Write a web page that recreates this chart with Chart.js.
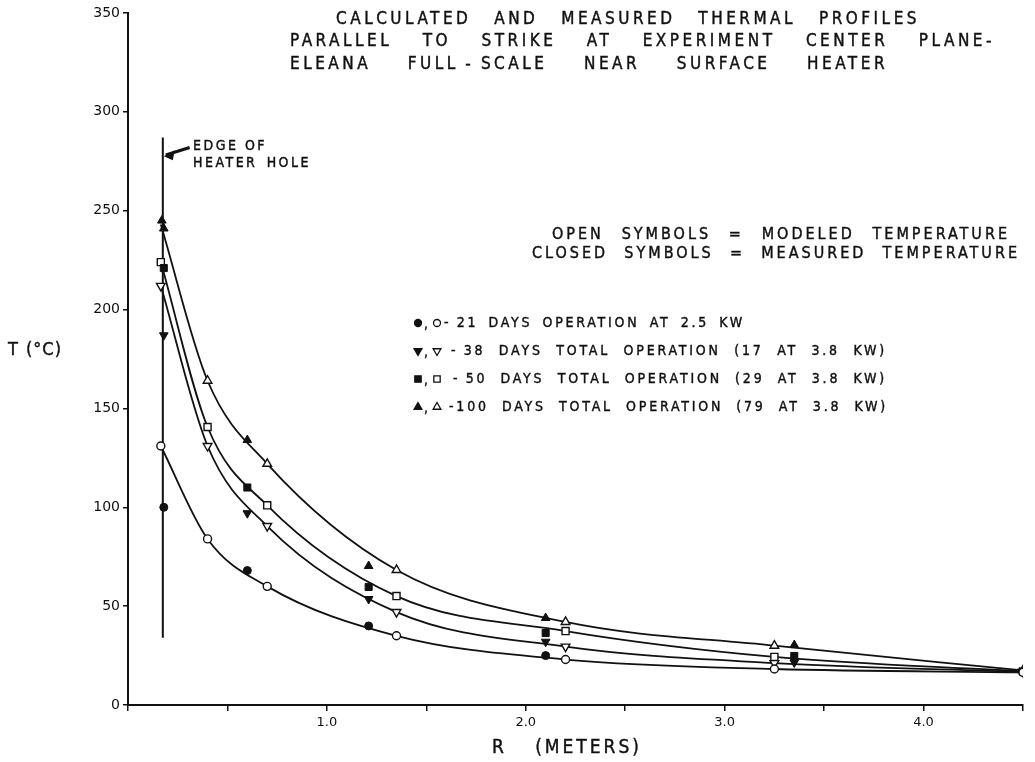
<!DOCTYPE html>
<html>
<head>
<meta charset="utf-8">
<script src="https://cdn.jsdelivr.net/npm/chart.js@4.4.0/dist/chart.umd.min.js"></script>
<style>
html, body { margin: 0; padding: 0; background: #fff; }
</style>
</head>
<body>
<canvas id="myChart" width="1035" height="762"></canvas>
<script>
// radius from heater centre (m) / temperature (deg C)
let modelR = [0.165, 0.4, 0.7, 1.35, 2.2, 3.25, 4.5]
let model21 = [131, 84, 60, 35, 23, 18.2, 16.5]
let model38 = [212, 131, 90.5, 47, 29.5, 21.2, 16.8]
let model50 = [224, 140.6, 101, 55.1, 37.4, 24.3, 17]
let model100 = [243, 164, 122, 68.3, 42, 30, 17.5]

let measR = [0.18, 0.6, 1.21, 2.1, 3.35]
let meas21 = [100, 68, 40, 25, null]
let meas38 = [187, 97, 53.6, 32, 21.5]
let meas50 = [221, 110, 59.7, 36.4, 24.8]
let meas100R = [0.17, 0.18, 0.6, 1.21, 2.1, 3.35]
let meas100 = [245, 241, 134, 70.3, 44, 30.3]

let heaterR = 0.175
let heaterT = [34, 287]

let xTicks = [1, 2, 3, 4]
let yTicks = [0, 50, 100, 150, 200, 250, 300, 350]

const ink = '#111'
const family = '"DejaVu Sans Condensed", "DejaVu Sans", sans-serif'
const thin = '\u2009'

function pts(xs, ys) {
    let out = []
    xs.forEach((x, i) => { if (ys[i] != null) out.push({ x, y: ys[i] }) })
    return out
}

function model(data, style, rot, hideFirst) {
    return {
        data,
        showLine: true,
        borderColor: ink,
        borderWidth: 1.8,
        cubicInterpolationMode: 'monotone',
        pointStyle: style,
        rotation: rot,
        pointRadius: c => (hideFirst && c.dataIndex === 0) ? 0 : (style === 'circle' ? 4 : 5),
        pointBackgroundColor: '#fff',
        pointBorderColor: ink,
        pointBorderWidth: 1.4,
        order: 1
    }
}

function measured(data, style, rot) {
    return {
        data,
        showLine: false,
        pointStyle: style,
        rotation: rot,
        pointRadius: style === 'circle' ? 4 : 5,
        pointBackgroundColor: ink,
        pointBorderColor: ink,
        pointBorderWidth: 1,
        order: 0
    }
}

// letters a little apart, words spread so the line spans w
function fitText(ctx, text, x, y, w, size, ls) {
    ctx.font = size + 'px ' + family
    ctx.letterSpacing = (ls || 0) + 'px'
    ctx.wordSpacing = '0px'
    let w1 = ctx.measureText(text).width
    let gaps = text.split(' ').length - 1
    if (gaps > 0) ctx.wordSpacing = Math.max(0, (w - w1) / gaps) + 'px'
    ctx.textAlign = 'left'
    ctx.textBaseline = 'middle'
    ctx.fillStyle = ink
    ctx.strokeStyle = ink
    ctx.lineWidth = 0.4
    ctx.fillText(text, x, y)
    ctx.strokeText(text, x, y)
    ctx.letterSpacing = '0px'
    ctx.wordSpacing = '0px'
}

function marker(ctx, style, rot, filled, x, y) {
    ctx.fillStyle = filled ? ink : '#fff'
    ctx.strokeStyle = ink
    ctx.lineWidth = 1.3
    Chart.helpers.drawPoint(ctx, { pointStyle: style, rotation: rot, radius: style === 'circle' ? 3.5 : 4.5, borderWidth: 1.3 }, x, y)
}

const notes = {
    id: 'notes',
    afterDraw(chart) {
        const ctx = chart.ctx
        const xs = chart.scales.x, ys = chart.scales.y
        ctx.save()

        // title block
        fitText(ctx, 'CALCULATED AND MEASURED THERMAL PROFILES', 336, 20, 584, 17, 3.5)
        fitText(ctx, 'PARALLEL TO STRIKE AT EXPERIMENT CENTER PLANE-', 290, 42, 705, 17, 3.5)
        fitText(ctx, 'ELEANA FULL' + thin + '-' + thin + 'SCALE NEAR SURFACE HEATER', 290, 65, 598, 17, 3.5)

        fitText(ctx, 'OPEN SYMBOLS = MODELED TEMPERATURE', 552, 235, 458, 16, 3)
        fitText(ctx, 'CLOSED SYMBOLS = MEASURED TEMPERATURE', 532, 254, 488, 16, 3)

        // symbol key
        const key = [
            ['circle', 0, '-' + thin + '21 DAYS OPERATION AT 2.5 KW', 444, 301, 323],
            ['triangle', 180, '-' + thin + '38 DAYS TOTAL OPERATION (17 AT 3.8 KW)', 451, 436, 351],
            ['rect', 0, '-' + thin + '50 DAYS TOTAL OPERATION (29 AT 3.8 KW)', 453, 434, 379],
            ['triangle', 0, '-100 DAYS TOTAL OPERATION (79 AT 3.8 KW)', 449, 439, 407]
        ]
        key.forEach(k => {
            marker(ctx, k[0], k[1], true, 418, k[5])
            fitText(ctx, ',', 424, k[5] + 1, 4, 14)
            marker(ctx, k[0], k[1], false, 437, k[5])
            fitText(ctx, k[2], k[3], k[5], k[4], 14, 2.8)
        })

        // heater edge note with arrow
        fitText(ctx, 'EDGE OF', 193, 146, 74, 14, 2.5)
        fitText(ctx, 'HEATER HOLE', 193, 163, 118, 14, 2.5)
        let ax0 = xs.getPixelForValue(0.31), ay0 = ys.getPixelForValue(282)
        let ax1 = xs.getPixelForValue(0.19), ay1 = ys.getPixelForValue(278.2)
        ctx.strokeStyle = ink
        ctx.lineWidth = 3
        ctx.beginPath()
        ctx.moveTo(ax0, ay0)
        ctx.lineTo(ax1, ay1)
        ctx.stroke()
        let hx = xs.getPixelForValue(heaterR) + 1, hy = ys.getPixelForValue(277.5)
        ctx.fillStyle = ink
        ctx.beginPath()
        ctx.moveTo(hx, hy)
        ctx.lineTo(hx + 11, hy - 6)
        ctx.lineTo(hx + 9, hy + 4)
        ctx.closePath()
        ctx.fill()

        // axis titles
        fitText(ctx, 'T (°C)', 8, 350, 54, 18, 1)
        fitText(ctx, 'R (METERS)', 492, 748, 150, 19, 3)

        ctx.restore()
    }
}

new Chart(document.getElementById('myChart'), {
    type: 'line',
    data: {
        datasets: [
            measured(pts(measR, meas21), 'circle', 0),
            measured(pts(measR, meas38), 'triangle', 180),
            measured(pts(measR, meas50), 'rect', 0),
            measured(pts(meas100R, meas100), 'triangle', 0),
            model(pts(modelR, model21), 'circle', 0, false),
            model(pts(modelR, model38), 'triangle', 180, false),
            model(pts(modelR, model50), 'rect', 0, false),
            model(pts(modelR, model100), 'triangle', 0, true),
            {
                data: pts([heaterR, heaterR], heaterT),
                showLine: true,
                borderColor: ink,
                borderWidth: 2,
                pointRadius: 0,
                order: 2
            }
        ]
    },
    options: {
        responsive: false,
        animation: false,
        layout: { padding: { top: 13, right: 12, left: 0, bottom: 0 } },
        plugins: { legend: { display: false }, tooltip: { enabled: false } },
        scales: {
            x: {
                type: 'linear',
                min: 0,
                max: 4.5,
                afterFit: s => { s.height = 57 },
                border: { color: ink, width: 2 },
                grid: { drawOnChartArea: false, drawTicks: true, tickLength: 6, color: ink, lineWidth: 1.5 },
                ticks: {
                    stepSize: 0.5,
                    autoSkip: false,
                    maxRotation: 0,
                    padding: 4,
                    color: ink,
                    font: { family: '"DejaVu Sans", sans-serif', size: 13 },
                    callback: v => xTicks.includes(v) ? v.toFixed(1) : ''
                }
            },
            y: {
                min: 0,
                max: 350,
                afterFit: s => { s.width = 128 },
                border: { color: ink, width: 2 },
                grid: { drawOnChartArea: false, drawTicks: true, tickLength: 5, color: ink, lineWidth: 1.5 },
                ticks: {
                    stepSize: 50,
                    padding: 3,
                    color: ink,
                    font: { family: '"DejaVu Sans", sans-serif', size: 14 },
                    callback: v => yTicks.includes(v) ? String(v) : ''
                }
            }
        }
    },
    plugins: [notes]
})
</script>
</body>
</html>
